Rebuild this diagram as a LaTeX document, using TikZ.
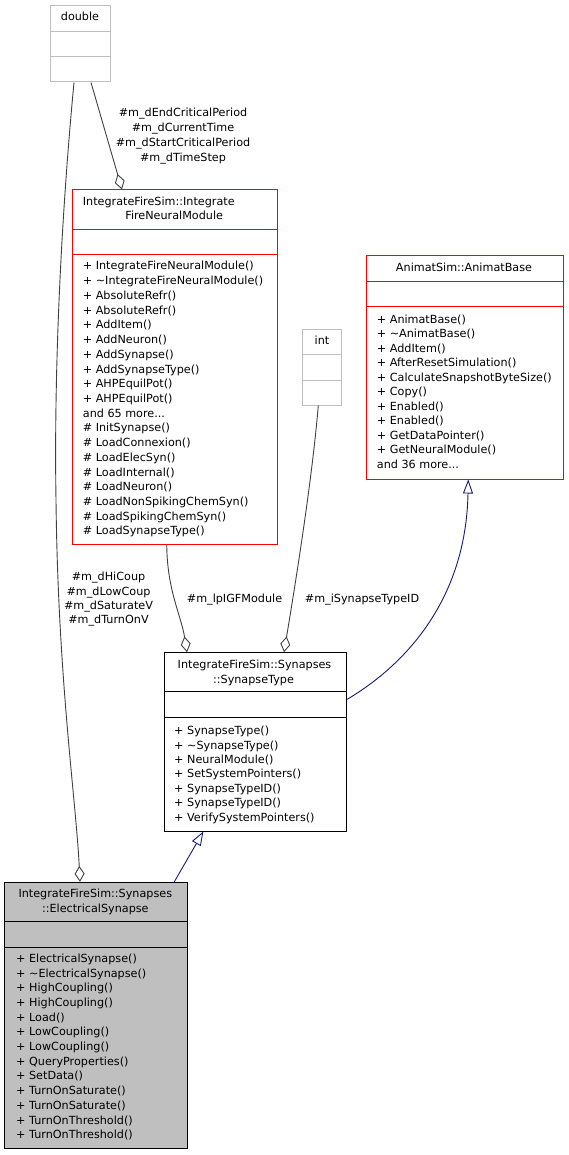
\documentclass[tikz,border=0pt]{standalone}
\usepackage{fontspec}
\setmainfont{DejaVu Sans}
\usetikzlibrary{arrows.meta}
\definecolor{edgegray}{HTML}{404040}
\definecolor{inhnavy}{HTML}{191970}
\definecolor{grey75}{HTML}{BFBFBF}
\newcommand\mydots{...}
\begin{document}
\begin{tikzpicture}[x=1pt,y=-1pt,
  font=\fontsize{11.2}{13}\selectfont,
  boxbase/.style={draw, line width=1pt, inner sep=0pt, rectangle},
  redbox/.style={boxbase, draw=red},
  greybox/.style={boxbase, draw=grey75},
  blackbox/.style={boxbase, draw=black},
  txt/.style={anchor=base west, inner sep=0pt},
  ctxt/.style={anchor=base, inner sep=0pt},
  collab/.style={draw=edgegray, line width=0.9pt, -{Diamond[open, length=16pt, width=10pt, line width=0.9pt]}},
  inh/.style={draw=inhnavy, line width=0.9pt, -{Triangle[open, length=14pt, width=10pt, line width=0.9pt]}}
]
\useasboundingbox (0,0) rectangle (569,1155);

% ---- boxes ----
\node[greybox, minimum width=60pt, minimum height=76pt] (dbl) at (80,44) {};
\draw[grey75, line width=1pt] (dbl.west |- 0,32) -- (dbl.east |- 0,32);
\draw[grey75, line width=1pt] (dbl.west |- 0,57) -- (dbl.east |- 0,57);
\node[ctxt] (dblT) at (80,21) {double};

\node[greybox, minimum width=39.4pt, minimum height=76pt] (int) at (322,367) {};
\draw[grey75, line width=1pt] (int.west |- 0,354.3) -- (int.east |- 0,354.3);
\draw[grey75, line width=1pt] (int.west |- 0,380) -- (int.east |- 0,380);
\node[ctxt] (intT) at (322,344.7) {int};

\node[redbox, minimum width=205.5pt, minimum height=354pt] (ifnm) at (174.75,367) {};
\draw[red, line width=1pt] (ifnm.west |- 0,230) -- (ifnm.east |- 0,230);
\draw[red, line width=1pt] (ifnm.west |- 0,255) -- (ifnm.east |- 0,255);
\node[txt] (ifnmT1) at (82.7,205.3) {IntegrateFireSim::Integrate};
\node[ctxt] (ifnmT2) at (174.2,219.9) {FireNeuralModule};
\foreach \t [count=\i from 0] in {%
  + IntegrateFireNeuralModule(),
  + \textasciitilde IntegrateFireNeuralModule(),
  + AbsoluteRefr(),
  + AbsoluteRefr(),
  + AddItem(),
  + AddNeuron(),
  + AddSynapse(),
  + AddSynapseType(),
  + AHPEquilPot(),
  + AHPEquilPot(),
  and 65 more\mydots,
  \# InitSynapse(),
  \# LoadConnexion(),
  \# LoadElecSyn(),
  \# LoadInternal(),
  \# LoadNeuron(),
  \# LoadNonSpikingChemSyn(),
  \# LoadSpikingChemSyn(),
  \# LoadSynapseType()}
  \node[txt] (ifnmM\i) at (82.7,270+\i*14.72) {\t};

\node[redbox, minimum width=197.5pt, minimum height=223.3pt] (anim) at (464.75,367.35) {};
\draw[red, line width=1pt] (anim.west |- 0,281.7) -- (anim.east |- 0,281.7);
\draw[red, line width=1pt] (anim.west |- 0,306.7) -- (anim.east |- 0,306.7);
\node[ctxt] (animT) at (464,271.3) {AnimatSim::AnimatBase};
\foreach \t [count=\i from 0] in {%
  + AnimatBase(),
  + \textasciitilde AnimatBase(),
  + AddItem(),
  + AfterResetSimulation(),
  + CalculateSnapshotByteSize(),
  + Copy(),
  + Enabled(),
  + Enabled(),
  + GetDataPointer(),
  + GetNeuralModule(),
  and 36 more\mydots}
  \node[txt] (animM\i) at (376.7,323+\i*14.53) {\t};

\node[blackbox, minimum width=182.7pt, minimum height=178.3pt] (st) at (255.35,741.85) {};
\draw[black, line width=1pt] (st.west |- 0,691.7) -- (st.east |- 0,691.7);
\draw[black, line width=1pt] (st.west |- 0,717.7) -- (st.east |- 0,717.7);
\node[ctxt] (stT1) at (254.5,668.7) {IntegrateFireSim::Synapses};
\node[ctxt] (stT2) at (253.5,683) {::SynapseType};
\foreach \t [count=\i from 0] in {%
  + SynapseType(),
  + \textasciitilde SynapseType(),
  + NeuralModule(),
  + SetSystemPointers(),
  + SynapseTypeID(),
  + SynapseTypeID(),
  + VerifySystemPointers()}
  \node[txt] (stM\i) at (174,734.7+\i*14.43) {\t};

\node[blackbox, fill=grey75, minimum width=183pt, minimum height=266pt] (es) at (96.2,1015.3) {};
\draw[black, line width=1pt] (es.west |- 0,921.7) -- (es.east |- 0,921.7);
\draw[black, line width=1pt] (es.west |- 0,947.3) -- (es.east |- 0,947.3);
\node[ctxt] (esT1) at (95.3,897.3) {IntegrateFireSim::Synapses};
\node[ctxt] (esT2) at (95.3,912) {::ElectricalSynapse};
\foreach \t [count=\i from 0] in {%
  + ElectricalSynapse(),
  + \textasciitilde ElectricalSynapse(),
  + HighCoupling(),
  + HighCoupling(),
  + Load(),
  + LowCoupling(),
  + LowCoupling(),
  + QueryProperties(),
  + SetData(),
  + TurnOnSaturate(),
  + TurnOnSaturate(),
  + TurnOnThreshold(),
  + TurnOnThreshold()}
  \node[txt] (esM\i) at (16,962.3+\i*14.7) {\t};

% ---- connectors ----
\draw[collab] ([xshift=-6pt]dbl.south) .. controls (60,230) and (54,380) .. (56,500)
  .. controls (58,680) and (76,800) .. ([xshift=-16.2pt]es.north);
\draw[collab] ([xshift=11pt]dbl.south) -- ([xshift=-52.75pt]ifnm.north);
\draw[collab] ([xshift=-8pt]ifnm.south) .. controls (167,590) and (181,615) .. ([xshift=-68.35pt]st.north);
\draw[collab] ([xshift=-3.7pt]int.south) .. controls (312,480) and (296,580) .. ([xshift=28.65pt]st.north);
\draw[inh] ([yshift=42.55pt]st.east) .. controls (405,665) and (466,600) .. ([xshift=3.5pt]anim.south);
\draw[inh] ([xshift=78.1pt]es.north) -- ([xshift=-52pt]st.south);

% ---- labels ----
\node[ctxt] (lbA1) at (183,116.7) {\#m\_dEndCriticalPeriod};
\node[ctxt] (lbA2) at (183,131.7) {\#m\_dCurrentTime};
\node[ctxt] (lbA3) at (183,146.7) {\#m\_dStartCriticalPeriod};
\node[ctxt] (lbA4) at (183,161.3) {\#m\_dTimeStep};
\node[ctxt] (lbB1) at (108.5,580) {\#m\_dHiCoup};
\node[ctxt] (lbB2) at (108.5,595) {\#m\_dLowCoup};
\node[ctxt] (lbB3) at (108.5,609) {\#m\_dSaturateV};
\node[ctxt] (lbB4) at (108.5,623.3) {\#m\_dTurnOnV};
\node[ctxt] (lbC) at (234.5,602.3) {\#m\_lpIGFModule};
\node[ctxt] (lbD) at (362,602.3) {\#m\_iSynapseTypeID};
\end{tikzpicture}
\end{document}
